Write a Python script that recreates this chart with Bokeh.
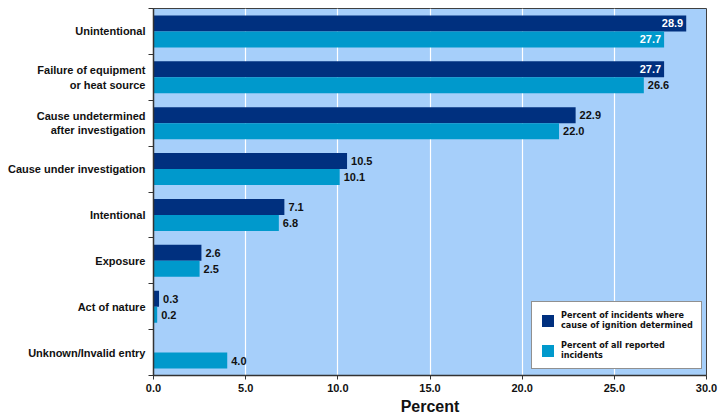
import numpy as np
from bokeh.plotting import figure
from bokeh.models import (Range1d, FixedTicker, NumeralTickFormatter, Legend, LegendItem,
                          ColumnDataSource)
from bokeh.core.properties import value
from bokeh.embed import file_html
from bokeh.resources import INLINE

categories = ["Unintentional", "Failure of equipment\nor heat source",
              "Cause undetermined\nafter investigation", "Cause under investigation",
              "Intentional", "Exposure", "Act of nature", "Unknown/Invalid entry"]
determined = [28.9, 27.7, 22.9, 10.5, 7.1, 2.6, 0.3, None]
all_reported = [27.7, 26.6, 22.0, 10.1, 6.8, 2.5, 0.2, 4.0]
x_ticks = [0, 5, 10, 15, 20, 25, 30]

DARK = "#00307F"
LIGHT = "#0099CC"
BG = "#A6CFFA"
FONT = "Liberation Sans"
NARROW = "DejaVu Sans Condensed"

n = len(categories)
centers = [n - 1 - i + 0.5 for i in range(n)]
H = 0.35
OFF = 0.175

p = figure(width=723, height=420, output_backend="svg", toolbar_location=None,
           x_range=Range1d(0, 30), y_range=Range1d(0, n))
p.min_border_left = 153
p.min_border_right = 17
p.min_border_top = 8
p.min_border_bottom = 45
p.background_fill_color = BG
p.border_fill_color = "white"
p.outline_line_color = "#404040"
p.outline_line_width = 1

d_idx = [i for i in range(n) if determined[i] is not None]
src_d = ColumnDataSource(dict(
    y=[centers[i] + OFF for i in d_idx],
    v=[determined[i] for i in d_idx],
    lab=["%.1f" % determined[i] for i in d_idx]))
src_a = ColumnDataSource(dict(
    y=[centers[i] - OFF for i in range(n)],
    v=all_reported,
    lab=["%.1f" % v for v in all_reported]))

rd = p.hbar(y="y", right="v", left=0, height=H, source=src_d, fill_color=DARK, line_color=None)
ra = p.hbar(y="y", right="v", left=0, height=H, source=src_a, fill_color=LIGHT, line_color=None)

THR = 27.0
for src in (src_d, src_a):
    data = src.data
    ins = [k for k, v in enumerate(data["v"]) if v > THR]
    out = [k for k, v in enumerate(data["v"]) if v <= THR]
    if ins:
        p.text(x=[data["v"][k] for k in ins], y=[data["y"][k] for k in ins],
               text=[data["lab"][k] for k in ins], x_offset=-3, text_align="right",
               text_baseline="middle", text_color="white", text_font=value(FONT),
               text_font_style="bold", text_font_size="11px")
    if out:
        p.text(x=[data["v"][k] for k in out], y=[data["y"][k] for k in out],
               text=[data["lab"][k] for k in out], x_offset=4, text_align="left",
               text_baseline="middle", text_color="#111111", text_font=value(FONT),
               text_font_style="bold", text_font_size="11px")

yax = p.yaxis[0]
yax.ticker = FixedTicker(ticks=centers, minor_ticks=list(range(n + 1)))
yax.major_label_overrides = {c: categories[i] for i, c in enumerate(centers)}
yax.major_tick_out = 0
yax.major_tick_in = 0
yax.minor_tick_out = 5
yax.minor_tick_in = 0
yax.minor_tick_line_color = "#333333"
yax.axis_line_color = "#333333"
yax.axis_line_width = 1.5
yax.major_label_text_font = FONT
yax.major_label_text_font_style = "bold"
yax.major_label_text_font_size = "11px"
yax.major_label_text_color = "#111111"
yax.major_label_standoff = 3

xax = p.xaxis[0]
xax.ticker = FixedTicker(ticks=x_ticks)
xax.formatter = NumeralTickFormatter(format="0.0")
xax.major_tick_out = 4
xax.major_tick_in = 0
xax.minor_tick_out = 0
xax.minor_tick_in = 0
xax.axis_line_color = "#333333"
xax.axis_line_width = 1.5
xax.major_tick_line_color = "#333333"
xax.major_label_text_font = FONT
xax.major_label_text_font_style = "bold"
xax.major_label_text_font_size = "11px"
xax.major_label_text_color = "#111111"
xax.major_label_standoff = 4
xax.axis_label = "Percent"
xax.axis_label_text_font = FONT
xax.axis_label_text_font_style = "bold"
xax.axis_label_text_font_size = "16px"
xax.axis_label_text_color = "#111111"
xax.axis_label_standoff = 3

p.ygrid.grid_line_color = None
p.xgrid.ticker = FixedTicker(ticks=x_ticks[1:-1])
p.xgrid.grid_line_color = "white"
p.xgrid.grid_line_width = 1.2

legend = Legend(items=[
    LegendItem(label="Percent of incidents where\ncause of ignition determined", renderers=[rd]),
    LegendItem(label="Percent of all reported\nincidents", renderers=[ra]),
], location=(378, 6))
legend.background_fill_color = "white"
legend.background_fill_alpha = 1
legend.border_line_color = "#222222"
legend.border_line_width = 1
legend.label_text_font = NARROW
legend.label_text_font_style = "bold"
legend.label_text_font_size = "9px"
legend.label_text_color = "#111111"
legend.label_text_line_height = 1.5
legend.glyph_width = 15
legend.glyph_height = 15
legend.padding = 8
legend.spacing = 10
legend.margin = 0
legend.label_standoff = 6
p.add_layout(legend)

open("out.html", "w").write(file_html(p, INLINE))
